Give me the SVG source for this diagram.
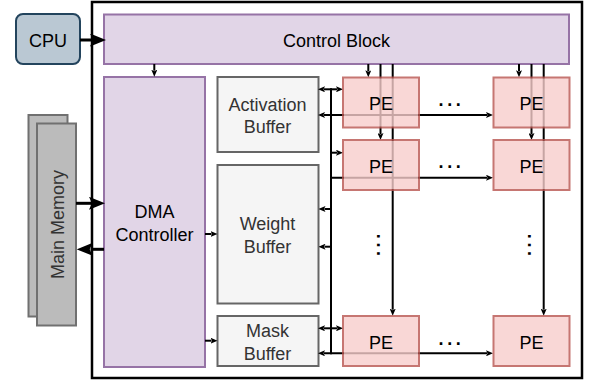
<svg xmlns="http://www.w3.org/2000/svg" width="589" height="384" viewBox="0 0 589 384">
<defs>
<style>
text{font-family:"Liberation Sans",Arial,sans-serif;font-size:18px;text-anchor:middle;fill:#000}
.buf rect{fill:#f5f5f5;stroke:#666;stroke-width:2}
.buf text{fill:#333}
.mem rect{fill:#bbbbbb;stroke:#707070;stroke-width:2}
.pe rect{fill:#f8cecc;stroke:#b85450;stroke-width:2;opacity:0.8}
.ctl{fill:#e1d5e7;stroke:#9673a6;stroke-width:2}
.c{fill:none;stroke:#000;stroke-width:2}
.s{marker-end:url(#sa)}
.d{marker-start:url(#sa);marker-end:url(#sa)}
.b{fill:none;stroke:#000;stroke-width:3;marker-end:url(#ba)}
.dots{letter-spacing:3.6px;font-weight:bold}
</style>
<marker id="sa" viewBox="0 0 7 6" refX="1" refY="3" markerWidth="7" markerHeight="6" markerUnits="userSpaceOnUse" orient="auto-start-reverse">
<path d="M0,0 L7,3 L0,6 L1.5,3 z" fill="#000"/>
</marker>
<marker id="ba" viewBox="0 0 16 13" refX="2" refY="6.5" markerWidth="16" markerHeight="13" markerUnits="userSpaceOnUse" orient="auto">
<path d="M0,0 L16,6.5 L0,13 L3,6.5 z" fill="#000"/>
</marker>
</defs>
<rect width="589" height="384" fill="#fff"/>
<g id="chip">
<rect x="92" y="2" width="490" height="376" fill="#fff" stroke="#000" stroke-width="2.5"/>
</g>
<g id="cpu">
<rect x="16" y="14" width="64" height="50" rx="7" fill="#bac8d3" stroke="#23445d" stroke-width="2"/>
<text x="48" y="46.5">CPU</text>
</g>
<g id="control-block">
<rect class="ctl" x="104" y="14.5" width="465" height="49.5"/>
<text x="336.5" y="46.5">Control Block</text>
</g>
<g id="main-memory" class="mem">
<rect x="28.5" y="115" width="39" height="201.5"/>
<rect x="37" y="123.5" width="39" height="202"/>
<text transform="translate(64 224.5) rotate(-90)" style="fill:#333">Main Memory</text>
</g>
<g id="dma-controller">
<rect class="ctl" x="104" y="77" width="101" height="290"/>
<text x="154.5" y="218.3">DMA</text>
<text x="154.5" y="241">Controller</text>
</g>
<g id="activation-buffer" class="buf">
<rect x="217.5" y="77" width="101" height="75"/>
<text x="267.5" y="110.7">Activation</text>
<text x="267.5" y="133.3">Buffer</text>
</g>
<g id="weight-buffer" class="buf">
<rect x="217.5" y="165" width="101" height="138.5"/>
<text x="267.5" y="230">Weight</text>
<text x="267.5" y="253.3">Buffer</text>
</g>
<g id="mask-buffer" class="buf">
<rect x="217.5" y="316" width="101" height="50"/>
<text x="267.5" y="337.3">Mask</text>
<text x="267.5" y="360">Buffer</text>
</g>
<g id="connectors">
<line class="b" x1="80" y1="40" x2="92" y2="40"/>
<line class="b" x1="76" y1="203.3" x2="91" y2="203.3"/>
<line class="b" x1="104" y1="249.3" x2="90.7" y2="249.3"/>
<line class="c s" x1="154.3" y1="64" x2="154.3" y2="70.7"/>
<line class="c s" x1="205" y1="234" x2="211.5" y2="234"/>
<line class="c s" x1="205" y1="340.7" x2="211.5" y2="340.7"/>
<line class="c" x1="331" y1="88.3" x2="331" y2="354.3"/>
<line class="c d" x1="324" y1="89.3" x2="337" y2="89.3"/>
<line class="c d" x1="324" y1="115" x2="487" y2="115"/>
<line class="c s" x1="331" y1="152.7" x2="337" y2="152.7"/>
<line class="c s" x1="331" y1="177.7" x2="487" y2="177.7"/>
<line class="c s" x1="331" y1="209" x2="324.5" y2="209"/>
<line class="c s" x1="331" y1="246.7" x2="324.5" y2="246.7"/>
<line class="c d" x1="324" y1="328.3" x2="337" y2="328.3"/>
<line class="c d" x1="324" y1="353.3" x2="487" y2="353.3"/>
<line class="c s" x1="368.3" y1="64" x2="368.3" y2="71.3"/>
<line class="c s" x1="380.5" y1="64" x2="380.5" y2="134"/>
<line class="c s" x1="392.7" y1="64" x2="392.7" y2="309.7"/>
<line class="c s" x1="519" y1="64" x2="519" y2="71.3"/>
<line class="c s" x1="531.5" y1="64" x2="531.5" y2="134"/>
<line class="c s" x1="543.7" y1="64" x2="543.7" y2="309.7"/>
</g>
<g id="ellipses">
<text class="dots" x="451.5" y="105.5">...</text>
<text class="dots" x="451.5" y="168">...</text>
<text class="dots" x="451.5" y="344.5">...</text>
<text class="dots" transform="translate(377 246.7) rotate(90)">...</text>
<text class="dots" transform="translate(527.7 246.7) rotate(90)">...</text>
</g>
<g id="pe-1-1" class="pe">
<rect x="343" y="77.5" width="76" height="50"/>
<text x="381" y="109.5">PE</text>
</g>
<g id="pe-1-n" class="pe">
<rect x="493.5" y="77.5" width="76" height="50"/>
<text x="531.5" y="109.5">PE</text>
</g>
<g id="pe-2-1" class="pe">
<rect x="343" y="140" width="76" height="50"/>
<text x="381" y="172.5">PE</text>
</g>
<g id="pe-2-n" class="pe">
<rect x="493.5" y="140" width="76" height="50"/>
<text x="531.5" y="172.5">PE</text>
</g>
<g id="pe-m-1" class="pe">
<rect x="343" y="316" width="76" height="50"/>
<text x="381" y="348.5">PE</text>
</g>
<g id="pe-m-n" class="pe">
<rect x="493.5" y="316" width="76" height="50"/>
<text x="531.5" y="348.5">PE</text>
</g>
</svg>
